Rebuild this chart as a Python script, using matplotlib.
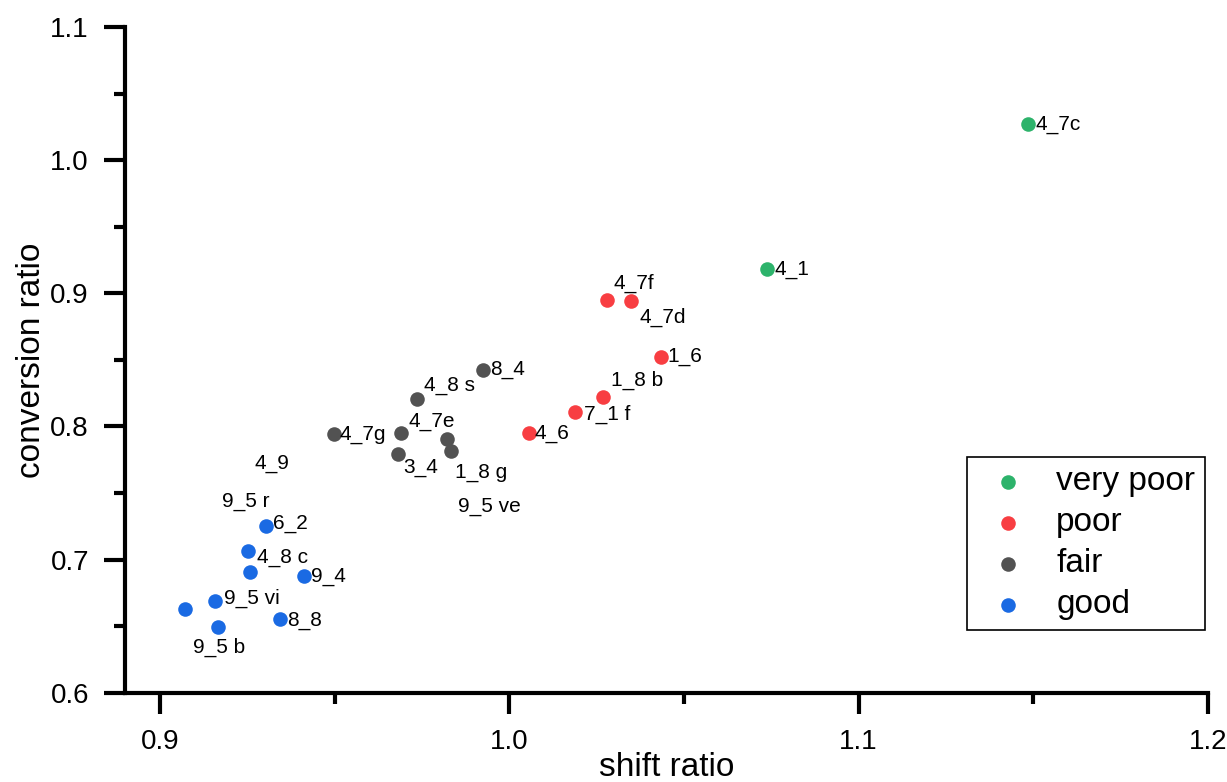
import matplotlib
matplotlib.use("Agg")
import matplotlib.pyplot as plt

plt.rcParams['font.family'] = ['Liberation Sans', 'DejaVu Sans']

# ---- data ----
categories = ["very poor", "poor", "fair", "good"]
colors = ["#2db36b", "#f83e42", "#525252", "#1a6ae3"]

vp_labels = ["4_7c", "4_1"]
vp_x = [1.1484, 1.0739]
vp_y = [1.027, 0.918]

poor_labels = ["4_7f", "4_7d", "1_6", "1_8 b", "7_1 f", "4_6"]
poor_x = [1.0281, 1.0349, 1.0433, 1.0267, 1.0187, 1.0055]
poor_y = [0.895, 0.8944, 0.8524, 0.8223, 0.8111, 0.7953]

fair_labels = ["8_4", "4_8 s", "4_7g", "4_7e", "3_4", "1_8 g", "9_5 ve"]
fair_x = [0.9925, 0.9737, 0.9497, 0.969, 0.968, 0.9833, 0.9821]
fair_y = [0.8424, 0.8206, 0.7941, 0.7953, 0.7793, 0.7815, 0.7903]

good_labels = ["6_2", "4_8 c", "9_5 r", "9_4", "9_5 vi", "4_9", "9_5 b", "8_8"]
good_x = [0.9303, 0.9251, 0.9258, 0.9413, 0.9157, 0.9072, 0.9165, 0.9344]
good_y = [0.7252, 0.7064, 0.6907, 0.6879, 0.6691, 0.6629, 0.6491, 0.6551]

# label offsets in pixels (dx right, dy down) from each point
vp_off = [(8, 0), (7, 0)]
poor_off = [(6, -17), (8, 17), (7, 0), (8, -16), (9, 3), (6, 1)]
fair_off = [(7, 0), (7, -13), (6, 0), (7, -11), (6, 14), (4, 21), (11, 67)]
good_off = [(7, -3), (9, 6), (-28, -70), (7, 1), (9, -2), (69, -145), (-25, 20), (7, 1)]

groups = [
    (vp_x, vp_y, vp_labels, vp_off),
    (poor_x, poor_y, poor_labels, poor_off),
    (fair_x, fair_y, fair_labels, fair_off),
    (good_x, good_y, good_labels, good_off),
]

fig = plt.figure(figsize=(12.27, 7.82), dpi=100)
ax = fig.add_axes([0.1019, 0.1142, 0.8826, 0.8513])

for (xs, ys, labs, offs), cat, col in zip(groups, categories, colors):
    ax.scatter(xs, ys, s=110, color=col, linewidths=0, label=cat, zorder=3)
    for x, y, lab, (dx, dy) in zip(xs, ys, labs, offs):
        ax.annotate(lab, (x, y), xytext=(dx, -dy), textcoords='offset pixels',
                    ha='left', va='center', fontsize=15, color='black')

ax.set_xlim(0.89, 1.2)
ax.set_ylim(0.6, 1.1)
ax.set_xticks([0.9, 1.0, 1.1, 1.2])
ax.set_xticks([0.95, 1.05, 1.15], minor=True)
ax.set_yticks([0.6, 0.7, 0.8, 0.9, 1.0, 1.1])
ax.set_yticks([0.65, 0.75, 0.85, 0.95, 1.05], minor=True)
ax.set_xticklabels(["0.9", "1.0", "1.1", "1.2"])
ax.set_yticklabels(["0.6", "0.7", "0.8", "0.9", "1.0", "1.1"])

for side in ['top', 'right']:
    ax.spines[side].set_visible(False)
for side in ['left', 'bottom']:
    ax.spines[side].set_linewidth(3.0)

ax.tick_params(which='major', direction='out', length=15, width=3.0,
               labelsize=20, pad=11)
ax.tick_params(which='minor', direction='out', length=8, width=3.0)

ax.set_xlabel("shift ratio", fontsize=24)
ax.set_ylabel("conversion ratio", fontsize=24)
ax.xaxis.set_label_coords(0.5, -0.089)
ax.yaxis.set_label_coords(-0.072, 0.5)

leg = ax.legend(loc='upper left', bbox_to_anchor=(967 / 1227, 1 - 457 / 782),
                bbox_transform=fig.transFigure, fontsize=24, frameon=True,
                fancybox=False, framealpha=1, edgecolor='black',
                handletextpad=0.48, labelspacing=0.3, borderpad=0.28,
                borderaxespad=0, handlelength=1.92, scatterpoints=1)
leg.get_frame().set_linewidth(1.2)

fig.savefig("out.png", dpi=100)
